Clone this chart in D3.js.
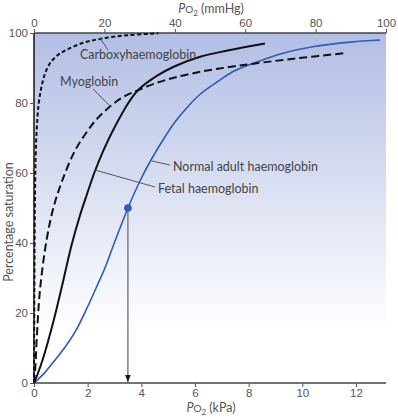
<!DOCTYPE html>
<html>
<head>
<meta charset="utf-8">
<script src="https://cdn.jsdelivr.net/npm/d3@7"></script>
<style>
  body { margin: 0; background: #fff; }
  svg { display: block; font-family: Lato, "Open Sans", sans-serif; }
  .tick text { fill: #555; font-size: 11.5px; }
  .tick line { stroke: #555; }
</style>
</head>
<body>
<div id="chart"></div>
<script>
// saturation curves, [PO2 in mmHg, % saturation]
var carboxy = [[0,0],[0.1,25],[0.25,50],[0.45,64],[0.8,73],[1.3,79.5],[2,84],[3,88],[4.5,91.3],
               [6.5,93.5],[9.3,95.2],[14,97.2],[19.7,98.5],[27,99.4],[35.3,99.9]];
var myoglobin = [[0,0],[0.3,3],[0.76,12.3],[1.7,26.6],[3.6,41],[5.5,50],[7.9,57.5],[11.6,66.3],
                 [15.4,72.3],[18,75.6],[21.6,79],[25,81.5],[29.6,83.7],[35,85.8],[40,87.3],
                 [47.2,88.9],[55,90.2],[62.8,91.3],[75,92.8],[87.9,94.2]];
var fetal = [[0,0],[1.2,3],[2.5,6.8],[4.1,12.3],[6,19.5],[7.7,26.6],[10.7,39.5],[13.1,48],[15,53.8],
             [17.3,60.5],[19.7,66.4],[22.5,72.3],[26.8,80],[29.6,83.7],[35,87.8],[40,90.5],
             [47.2,93.2],[55,95],[65.6,97]];
var adult = [[0,0],[3,2.9],[6,6.6],[9,10.5],[12,15.2],[15,21.3],[17.8,27.5],[20,32.5],[23,40.5],
             [26.7,50],[30,57.5],[33.4,64],[37,70],[40,74.5],[44,79.3],[47.2,82.5],[52,86],
             [57,89.2],[62.8,91.5],[70,94],[80,96.2],[90,97.4],[98.3,98]];
var p50 = { kpa: 3.5, sat: 50 };

var mmTicks = [0, 20, 40, 60, 80, 100];
var kpaTicks = [0, 2, 4, 6, 8, 10, 12];
var satTicks = [0, 20, 40, 60, 80, 100];

var W = 398, H = 418;
var mLeft = 34, mRight = 386, mTop = 33, mBottom = 383;

var xMm = d3.scaleLinear().domain([0, 100]).range([mLeft, mRight]);
var xKpa = d3.scaleLinear().domain([0, 13.12]).range([mLeft, mRight]);
var y = d3.scaleLinear().domain([0, 100]).range([mBottom, mTop]);

var svg = d3.select("#chart").append("svg").attr("width", W).attr("height", H);

var defs = svg.append("defs");
var grad = defs.append("linearGradient").attr("id", "bg")
  .attr("x1", 0).attr("y1", 0).attr("x2", 0).attr("y2", 1);
grad.append("stop").attr("offset", "0%").attr("stop-color", "#b2bee4");
grad.append("stop").attr("offset", "85%").attr("stop-color", "#ffffff");
defs.append("marker").attr("id", "arrow")
  .attr("viewBox", "0 0 10 10").attr("refX", 10).attr("refY", 5)
  .attr("markerWidth", 5).attr("markerHeight", 5).attr("orient", "auto")
  .append("path").attr("d", "M0,1L10,5L0,9z").attr("fill", "#111");

svg.append("rect")
  .attr("x", mLeft).attr("y", mTop)
  .attr("width", mRight - mLeft).attr("height", mBottom - mTop)
  .attr("fill", "url(#bg)");

// axes
var gTop = svg.append("g").attr("transform", "translate(0," + mTop + ")")
  .call(d3.axisTop(xMm).tickValues(mmTicks).tickSize(4).tickPadding(2));
var gBot = svg.append("g").attr("transform", "translate(0," + mBottom + ")")
  .call(d3.axisBottom(xKpa).tickValues(kpaTicks).tickSize(4).tickPadding(2));
var gLeft = svg.append("g").attr("transform", "translate(" + mLeft + ",0)")
  .call(d3.axisLeft(y).tickValues(satTicks).tickSize(4).tickPadding(2));
gTop.select(".domain").attr("stroke", "#444").attr("stroke-width", 1.6)
  .attr("d", "M" + mLeft + ",0H" + mRight);
gBot.select(".domain").attr("stroke", "#444").attr("stroke-width", 1.6)
  .attr("d", "M" + mLeft + ",0H" + mRight);
gLeft.select(".domain").attr("stroke", "#222").attr("stroke-width", 1.6)
  .attr("d", "M0," + mBottom + "V" + mTop);

function po2Label(x, yy, unit) {
  var t = svg.append("text").attr("x", x).attr("y", yy)
    .attr("text-anchor", "middle").attr("fill", "#555").style("font-size", "12.5px");
  t.append("tspan").text("P").style("font-style", "italic");
  t.append("tspan").text("O").style("font-size", "10px");
  t.append("tspan").text("2").style("font-size", "8px").attr("dy", 3);
  t.append("tspan").text(" (" + unit + ")").attr("dy", -3);
}
po2Label(211, 13, "mmHg");
po2Label(211, 412, "kPa");

svg.append("text")
  .attr("transform", "translate(13," + 222 + ") rotate(-90)")
  .attr("text-anchor", "middle").attr("fill", "#555").style("font-size", "12.5px")
  .text("Percentage saturation");

// curves
var line = d3.line().x(function(d) { return xMm(d[0]); }).y(function(d) { return y(d[1]); })
  .curve(d3.curveCatmullRom.alpha(0.5));

svg.append("path").datum(adult).attr("d", line)
  .attr("fill", "none").attr("stroke", "#2b5cb8").attr("stroke-width", 1.6);
svg.append("path").datum(fetal).attr("d", line)
  .attr("fill", "none").attr("stroke", "#111").attr("stroke-width", 2);
svg.append("path").datum(myoglobin).attr("d", line)
  .attr("fill", "none").attr("stroke", "#111").attr("stroke-width", 2)
  .attr("stroke-dasharray", "8,4");
svg.append("path").datum(carboxy).attr("d", line)
  .attr("fill", "none").attr("stroke", "#111").attr("stroke-width", 2)
  .attr("stroke-dasharray", "4,2.5");

// P50 marker and arrow
svg.append("line")
  .attr("x1", xKpa(p50.kpa)).attr("x2", xKpa(p50.kpa))
  .attr("y1", y(p50.sat)).attr("y2", y(0) - 1)
  .attr("stroke", "#777").attr("stroke-width", 1.4)
  .attr("marker-end", "url(#arrow)");
svg.append("circle")
  .attr("cx", xKpa(p50.kpa)).attr("cy", y(p50.sat)).attr("r", 3.8)
  .attr("fill", "#2b5cb8");

// labels with leader lines
var notes = [
  { text: "Carboxyhaemoglobin", tx: 80, ty: 59, from: [100, 38], to: [108, 50] },
  { text: "Myoglobin", tx: 60, ty: 86, from: [93, 89], to: [111, 107] },
  { text: "Normal adult haemoglobin", tx: 173, ty: 171, from: [152, 161], to: [170, 165] },
  { text: "Fetal haemoglobin", tx: 158, ty: 193, from: [95, 170], to: [155, 187] }
];
notes.forEach(function(n) {
  svg.append("line")
    .attr("x1", n.from[0]).attr("y1", n.from[1]).attr("x2", n.to[0]).attr("y2", n.to[1])
    .attr("stroke", "#555").attr("stroke-width", 1);
  svg.append("text").attr("x", n.tx).attr("y", n.ty)
    .attr("fill", "#444").style("font-size", "12.5px").text(n.text);
});
</script>
</body>
</html>
